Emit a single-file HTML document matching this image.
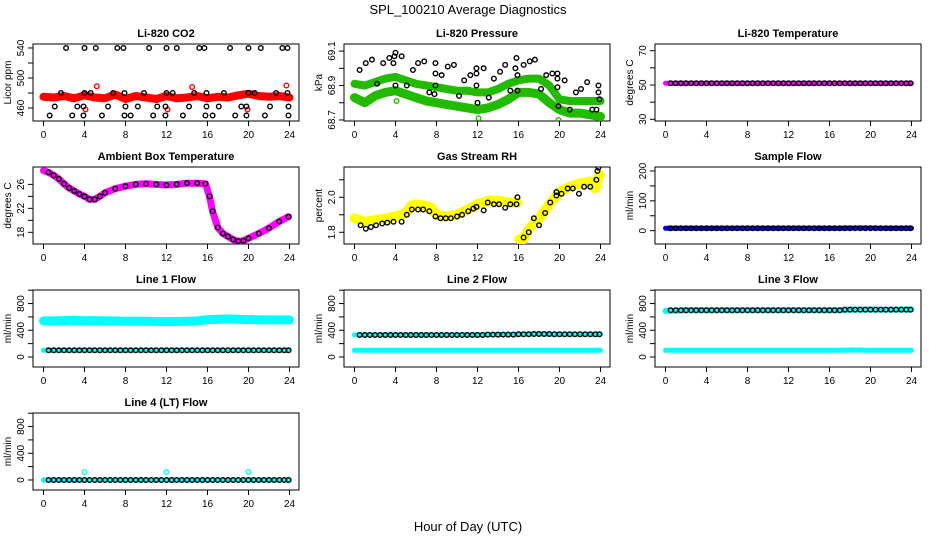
<!DOCTYPE html>
<html><head><meta charset="utf-8">
<style>
html,body{margin:0;padding:0;background:#fff;}
svg{display:block;font-family:"Liberation Sans",Arial,sans-serif;}
</style></head>
<body>
<svg id="chart" width="936" height="540" viewBox="0 0 936 540" xmlns="http://www.w3.org/2000/svg">
<rect x="0" y="0" width="936" height="540" fill="#fff"/>
<text x="468" y="14" font-size="13" text-anchor="middle">SPL_100210  Average Diagnostics</text>
<text x="468" y="531" font-size="13" text-anchor="middle">Hour of Day (UTC)</text>
</svg>
<script>
// ---------- data ----------
const xTicks=[0,4,8,12,16,20,24];
const HH=[0.5,1,1.5,2,2.5,3,3.5,4,4.5,5,5.5,6,6.5,7,7.5,8,8.5,9,9.5,10,10.5,11,11.5,12,12.5,13,13.5,14,14.5,15,15.5,16,16.5,17,17.5,18,18.5,19,19.5,20,20.5,21,21.5,22,22.5,23,23.5,23.9];
const bandHours=[0,1,2,3,4,5,6,7,8,9,10,11,12,13,14,15,16,17,18,19,20,21,22,23,24];

// CO2
const co2Band=[475,474,476,473,477,474,473,478,472,476,474,472,476,473,474,476,473,475,474,477,479,476,475,476,474];
const co2BlackH=[2.2,4,5.1,7.2,7.8,10.3,12,13,15.2,15.7,18.2,20,21.2,23.3,23.8, 1.7,4,4.6,6.8,7.9,9.8,12,12.6,14.7,15.9,17.6,20,20.6,22.7,23.8, 1.1,3.3,3.9,6.3,8,9.2,11.1,11.9,14.2,15.9,17.1,19.3,19.8,22.1,23.9, 0.6,2.8,3.9,5.7,7.9,8.5,10.7,11.9,13.6,15.8,16.5,18.7,19.8,21.6,23.9];
const co2BlackV=[540,540,540,540,540,540,540,540,540,540,540,540,540,540,540, 480,480,480,480,480,480,480,480,480,480,480,480,480,480,480, 462,462,462,462,462,462,462,462,462,462,462,462,462,462,462, 450,450,450,450,450,450,450,450,450,450,450,450,450,450,450];
const co2RedH=[4.1,5.2,12.1,14.5,19.9,23.7];
const co2RedV=[458,489,458,488,458,490];

// Pressure
const presUpper=[68.91,68.90,68.92,68.94,68.95,68.93,68.91,68.90,68.89,68.88,68.87,68.87,68.86,68.86,68.88,68.91,68.93,68.94,68.94,68.90,68.82,68.81,68.81,68.81,68.81];
const presLower=[68.83,68.80,68.84,68.86,68.87,68.85,68.83,68.81,68.80,68.79,68.78,68.77,68.76,68.77,68.79,68.82,68.86,68.86,68.85,68.80,68.76,68.74,68.74,68.73,68.72];
const presBlackH=[0.5,1.1,1.7,2.2,2.8,3.4,3.8,3.9,4,4,4.6,5.1,5.7,6.2,6.8,7.3,7.9,7.9,7.9,7.8,8.5,9.1,9.7,10.2,10.7,11.3,11.9,11.9,11.9,12,12.6,13.1,13.6,14.2,14.7,15.2,15.7,15.8,15.9,15.9,16.5,17.1,17.6,18.2,18.7,19.3,19.8,19.8,19.8,19.9,20.5,21,21.6,22.1,22.7,23.2,23.6,23.8,23.8,23.9];
const presBlackV=[68.99,69.03,69.05,68.91,69.03,69.06,69.03,69.07,69.09,68.90,69.07,68.90,68.99,69.03,69.04,68.86,69.03,68.97,68.90,68.85,68.96,69.01,69.02,68.84,68.93,68.96,68.97,69.00,68.90,68.80,69.00,68.83,68.94,68.98,69.02,68.87,69.00,69.06,68.87,68.96,69.02,69.04,69.05,68.88,68.96,68.97,68.97,68.94,68.89,68.78,68.93,68.76,68.86,68.88,68.92,68.76,68.76,68.90,68.86,68.82];
const presGreenH=[0.4,4.1,12.1,19.9];
const presGreenV=[68.90,68.81,68.71,68.70];

// Li-820 temperature
const tempBand=[51,51,51,51,51,51,51,51,51,51,51,51,51,51,51,51,51,51,51,51,51,51,51,51,51];
const tempBlack=[51,51,51,51,51,51,51,51,51,51,51,51,51,51,51,51,51,51,51,51,51,51,51,51,51,51,51,51,51,51,51,51,51,51,51,51,51,51,51,51,51,51,51,51,51,51,51,51];

// Ambient box temperature
const ambHours=[0,0.5,1,1.5,2,2.5,3,3.5,4,4.5,5,5.5,6,7,8,9,10,11,12,13,14,15,15.8,16.2,16.5,17,17.5,18,18.5,19,19.5,20,21,22,23,23.9];
const ambVals=[28.3,28.0,27.5,26.9,26.1,25.4,24.9,24.4,24.0,23.5,23.5,24.0,24.6,25.3,25.7,26.0,26.1,26.0,25.9,26.0,26.2,26.2,26.1,24.0,21.5,18.8,17.8,17.3,16.8,16.5,16.6,17.0,17.8,18.7,19.8,20.6];

// Gas stream RH
const rhBandH=[0,0.5,1,2,3,4,5,5.5,6,7,7.5,8,9,10,11,12,13,14,15,15.9];
const rhBandV=[1.88,1.87,1.86,1.87,1.88,1.89,1.91,1.95,1.96,1.95,1.94,1.90,1.89,1.90,1.93,1.96,1.98,1.98,1.97,1.97];
const rhBand2H=[16.1,16.5,17,18,19,20,21,22,23,23.5,23.9];
const rhBand2V=[1.76,1.76,1.82,1.88,1.96,2.03,2.06,2.08,2.09,2.05,2.13];
const rhBlackH=[0.6,1.1,1.6,2.1,2.7,3.2,3.8,4.6,5.1,5.6,6.2,6.7,7.3,7.9,8.4,8.9,9.4,10.0,10.5,11.1,11.6,11.9,12.6,13.0,13.6,14.1,14.7,15.2,15.8,15.9,16.5,17.0,17.5,18.0,18.6,19.1,19.7,19.7,20.2,20.8,21.3,21.9,22.4,23.0,23.6,23.7,23.8];
const rhBlackV=[1.84,1.82,1.83,1.84,1.85,1.855,1.86,1.86,1.90,1.93,1.93,1.93,1.92,1.89,1.88,1.88,1.88,1.89,1.90,1.92,1.935,1.945,1.925,1.97,1.96,1.96,1.94,1.96,1.96,2.0,1.77,1.80,1.88,1.84,1.91,1.97,2.03,2.01,2.02,2.05,2.05,2.02,2.06,2.06,2.10,2.15,2.17];

// Flows
const sampleBand=[8,8,8,8,8,8,8,8,8,8,8,8,8,8,8,8,8,8,9,9,9,8,8,8,8];
const sampleBlack=[8,8,8,8,8,8,8,8,8,8,8,8,8,8,8,8,8,8,8,8,8,8,8,8,8,8,8,8,8,8,8,8,8,8,8,8,8,8,8,8,8,8,8,8,8,8,8,8];
const line1Cyan=[540,540,545,550,540,545,540,540,535,535,535,530,530,530,535,540,560,565,570,565,560,555,555,555,555];
const line1CyanLow=[100,100,100,100,100,100,100,100,100,100,100,100,100,100,100,100,100,100,100,100,100,100,100,100,100];
const line1Black=[100,100,100,100,100,100,100,100,100,100,100,100,100,100,100,100,100,100,100,100,100,100,100,100,100,100,100,100,100,100,100,100,100,100,100,100,100,100,100,100,100,100,100,100,100,100,100,100];
const line2Cyan=[330,330,330,330,330,330,330,330,330,330,330,330,335,335,335,340,340,345,345,340,340,340,340,340,340];
const line2CyanLow=[100,100,100,100,100,100,100,100,100,100,100,100,100,100,100,100,100,100,100,100,100,100,100,100,100];
const line2Black=[330,330,330,330,330,330,330,330,330,330,330,330,330,330,330,330,330,330,330,330,330,330,330,330,330,335,335,335,335,335,335,340,340,340,345,345,345,345,340,340,340,340,340,340,340,340,340,340];
const line3Cyan=[690,695,700,700,700,700,700,700,700,700,700,700,700,700,700,700,700,700,710,710,710,710,710,710,710];
const line3CyanLow=[100,100,100,100,100,100,100,100,100,100,100,100,100,100,100,100,100,100,105,105,100,100,100,100,100];
const line3Black=[700,700,700,700,700,700,700,700,700,700,700,700,700,700,700,700,700,700,700,700,700,700,700,700,700,700,700,700,700,700,700,700,700,700,710,710,710,710,710,710,710,710,710,710,710,710,710,710];
const line4Cyan=[0,0,0,0,0,0,0,0,0,0,0,0,0,0,0,0,0,0,0,0,0,0,0,0,0];
const line4Black=[0,0,0,0,0,0,0,0,0,0,0,0,0,0,0,0,0,0,0,0,0,0,0,0,0,0,0,0,0,0,0,0,0,0,0,0,0,0,0,0,0,0,0,0,0,0,0,0];
const line4OutH=[4,12,20];
const line4OutV=[120,120,120];

// ---------- drawing ----------
const NS="http://www.w3.org/2000/svg";
const svg=document.getElementById('chart');
const PW=266, PH=77;
function mk(tag,attrs,parent){const e=document.createElementNS(NS,tag);for(const k in attrs)e.setAttribute(k,attrs[k]);(parent||svg).appendChild(e);return e;}
function sx(p,h){return p.left+10.5+h*10.25;}
function sy(p,v){return p.top+PH-(v-p.ymin)/(p.ymax-p.ymin)*PH;}

let clipN=0;
function panel(p){
  const g=mk('g',{});
  
  
  const t=mk('text',{x:p.left+PW/2,y:p.top-7,'font-size':11,'font-weight':'bold','text-anchor':'middle'},g);
  t.textContent=p.title;
  
  
  const box=mk('rect',{x:p.left,y:p.top,width:PW,height:PH,fill:'none',stroke:'#000','stroke-width':1},g);
  
  
  // x axis
  const xa=mk('g',{},g);
  
  
  mk('line',{x1:sx(p,0),x2:sx(p,24),y1:p.top+PH,y2:p.top+PH,stroke:'#000'},xa);
  xTicks.forEach(h=>{
    mk('line',{x1:sx(p,h),x2:sx(p,h),y1:p.top+PH,y2:p.top+PH+5,stroke:'#000'},xa);
    const l=mk('text',{x:sx(p,h),y:p.top+PH+17,'font-size':10,'text-anchor':'middle'},xa);
    l.textContent=h;
    
    
  });
  // y axis
  const ya=mk('g',{},g);
  
  
  mk('line',{x1:p.left,x2:p.left,y1:sy(p,p.ticks[0]),y2:sy(p,p.ticks[p.ticks.length-1]),stroke:'#000'},ya);
  p.ticks.forEach((v,i)=>{
    const y=sy(p,v);
    mk('line',{x1:p.left-5,x2:p.left,y1:y,y2:y,stroke:'#000'},ya);
    if(p.labels[i]!==''){
      const l=mk('text',{x:p.left-9,y:y,'font-size':10,'text-anchor':'middle',transform:'rotate(-90 '+(p.left-9)+' '+y+')'},ya);
      l.textContent=p.labels[i];
      
      
    }
  });
  const yt=mk('text',{x:p.left-22,y:p.top+PH/2,'font-size':10,'text-anchor':'middle',transform:'rotate(-90 '+(p.left-22)+' '+(p.top+PH/2)+')'},g);
  yt.textContent=p.ylab;
  
  
  // clip
  clipN++;
  const cp=mk('clipPath',{id:'cp'+clipN},g);
  mk('rect',{x:p.left,y:p.top,width:PW,height:PH},cp);
  const data=mk('g',{'clip-path':'url(#cp'+clipN+')'},g);
  
  
  p.data=data;
  return p;
}
function band(p,hs,vs,color,w,name){
  const pts=hs.map((h,i)=>sx(p,h).toFixed(1)+','+sy(p,vs[i]).toFixed(1)).join(' ');
  const pl=mk('polyline',{points:pts,fill:'none',stroke:color,'stroke-width':w,'stroke-linejoin':'round','stroke-linecap':'round'},p.data);
  
  
}
function pts(p,hs,vs,color,name){
  hs.forEach((h,i)=>{
    const c=mk('circle',{cx:sx(p,h),cy:sy(p,vs[i]),r:2.3,fill:'none',stroke:color,'stroke-width':1.4},p.data);
    
    
  });
}

const cols=[33,344,655], rows=[44,167,290,413];
const flowT=[0,200,400,600,800,1000], flowL=['0','','400','','800',''];

let p=panel({name:'co2',title:'Li-820 CO2',left:cols[0],top:rows[0],ymin:442.7,ymax:545.3,ticks:[460,480,500,520,540],labels:['460','','500','','540'],ylab:'Licor ppm'});
band(p,bandHours,co2Band,'#ff0000',8,'co2-red-band');
pts(p,co2RedH,co2RedV,'#ff0000','co2-red-point');
pts(p,co2BlackH,co2BlackV,'#000','co2-black-point');

p=panel({name:'pressure',title:'Li-820 Pressure',left:cols[1],top:rows[0],ymin:68.694,ymax:69.141,ticks:[68.7,68.8,68.9,69.0,69.1],labels:['68.7','','68.9','','69.1'],ylab:'kPa'});
band(p,bandHours,presUpper,'#22bb00',8,'pressure-upper-band');
band(p,bandHours,presLower,'#22bb00',9,'pressure-lower-band');
pts(p,presGreenH,presGreenV,'#22bb00','pressure-green-point');
pts(p,presBlackH,presBlackV,'#000','pressure-black-point');

p=panel({name:'li820-temp',title:'Li-820 Temperature',left:cols[2],top:rows[0],ymin:29.0,ymax:73.9,ticks:[30,40,50,60,70],labels:['30','','50','','70'],ylab:'degrees C'});
band(p,bandHours,tempBand,'#ff00ff',5,'temp-band');
pts(p,HH,tempBlack,'#000','temp-black-point');

p=panel({name:'ambient-temp',title:'Ambient Box Temperature',left:cols[0],top:rows[1],ymin:16.05,ymax:28.9,ticks:[18,20,22,24,26],labels:['18','','22','','26'],ylab:'degrees C'});
band(p,ambHours,ambVals,'#ff00ff',7,'ambient-band');
pts(p,ambHours.slice(1),ambVals.slice(1),'#000','ambient-black-point');

p=panel({name:'gas-rh',title:'Gas Stream RH',left:cols[1],top:rows[1],ymin:1.733,ymax:2.173,ticks:[1.8,1.9,2.0,2.1],labels:['1.8','','2.0',''],ylab:'percent'});
band(p,rhBandH,rhBandV,'#ffff00',10,'rh-band-1');
band(p,rhBand2H,rhBand2V,'#ffff00',10,'rh-band-2');
pts(p,rhBlackH,rhBlackV,'#000','rh-black-point');

p=panel({name:'sample-flow',title:'Sample Flow',left:cols[2],top:rows[1],ymin:-44.6,ymax:213.4,ticks:[0,50,100,150,200],labels:['0','','100','','200'],ylab:'ml/min'});
band(p,bandHours,sampleBand,'#0000ff',5,'sample-band');
pts(p,HH,sampleBlack,'#000','sample-black-point');

p=panel({name:'line1-flow',title:'Line 1 Flow',left:cols[0],top:rows[2],ymin:-150,ymax:1003,ticks:flowT,labels:flowL,ylab:'ml/min'});
band(p,bandHours,line1Cyan,'#00ffff',9,'line1-cyan-band');
band(p,bandHours,line1CyanLow,'#00ffff',5,'line1-cyan-low');
pts(p,HH,line1Black,'#000','line1-black-point');

p=panel({name:'line2-flow',title:'Line 2 Flow',left:cols[1],top:rows[2],ymin:-150,ymax:1003,ticks:flowT,labels:flowL,ylab:'ml/min'});
band(p,bandHours,line2CyanLow,'#00ffff',5,'line2-cyan-low');
band(p,bandHours,line2Cyan,'#00ffff',5,'line2-cyan-band');
pts(p,HH,line2Black,'#000','line2-black-point');

p=panel({name:'line3-flow',title:'Line 3 Flow',left:cols[2],top:rows[2],ymin:-150,ymax:1003,ticks:flowT,labels:flowL,ylab:'ml/min'});
band(p,bandHours,line3CyanLow,'#00ffff',5,'line3-cyan-low');
band(p,bandHours,line3Cyan,'#00ffff',6,'line3-cyan-band');
pts(p,HH,line3Black,'#000','line3-black-point');

p=panel({name:'line4-flow',title:'Line 4 (LT) Flow',left:cols[0],top:rows[3],ymin:-150,ymax:1003,ticks:flowT,labels:flowL,ylab:'ml/min'});
band(p,bandHours,line4Cyan,'#00ffff',5,'line4-cyan-band');
pts(p,line4OutH,line4OutV,'#00ffff','line4-cyan-point');
pts(p,HH,line4Black,'#000','line4-black-point');
</script>
</body></html>
